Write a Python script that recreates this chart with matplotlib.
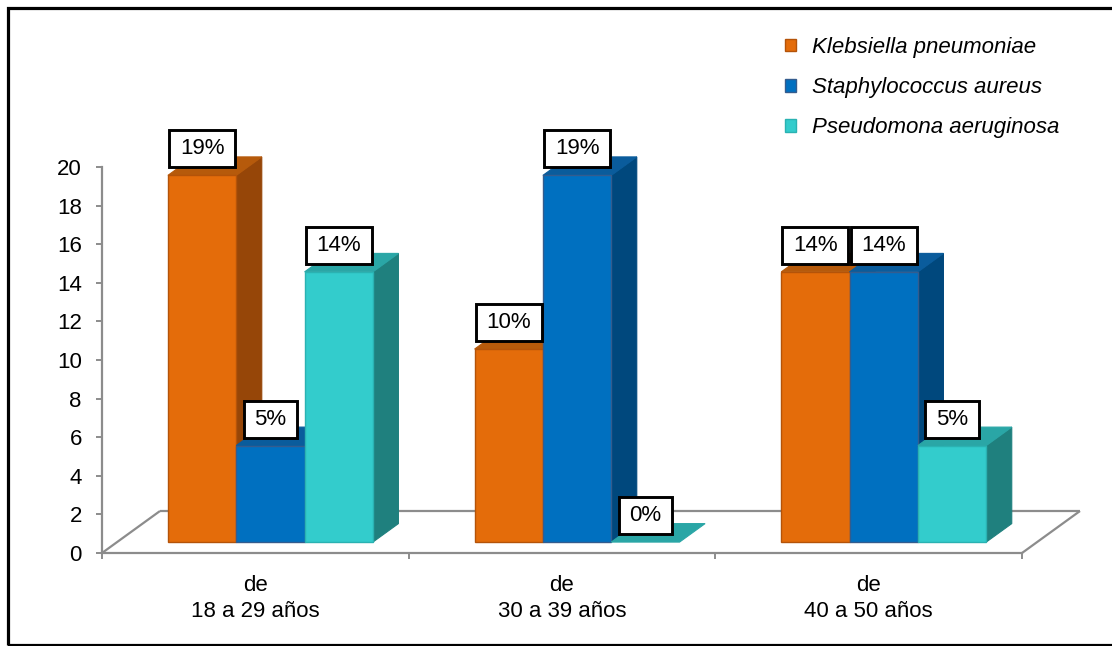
import matplotlib
matplotlib.use("Agg")
import matplotlib.pyplot as plt
from matplotlib.patches import Polygon, Rectangle, Patch
from matplotlib.path import Path

# ---- data -------------------------------------------------------------
categories = ["de\n18 a 29 años", "de\n30 a 39 años", "de\n40 a 50 años"]
series_names = ["Klebsiella pneumoniae", "Staphylococcus aureus", "Pseudomona aeruginosa"]
klebsiella = [19, 10, 14]
staphylococcus = [5, 19, 14]
pseudomona = [14, 0, 5]
y_ticks = [0, 2, 4, 6, 8, 10, 12, 14, 16, 18, 20]

# ---- styling ----------------------------------------------------------
plt.rcParams["font.family"] = ["Liberation Sans", "DejaVu Sans"]
FONT = 16
# (front, top, side, edge) shades per series
shades = [
    ("#E46C0A", "#B65A0B", "#964608", "#B45309"),
    ("#0070C0", "#0A5C9C", "#00487D", "#345C8E"),
    ("#33CCCC", "#2AA6A6", "#1F807E", "#2AB2B2"),
]
GRID_GRAY = "#8C8C8C"

W, H = 1112, 646
fig = plt.figure(figsize=(W / 100, H / 100), dpi=100)
ax_px = (102, 93, 920, 386)  # left, bottom, width, height in pixels
ax = fig.add_axes([ax_px[0] / W, ax_px[1] / H, ax_px[2] / W, ax_px[3] / H])
ax.set_xlim(0, 3)
ax.set_ylim(0, 20)

# perspective offsets of the floor (data units)
px_x = ax_px[2] / 3.0
px_y = ax_px[3] / 20.0
DX = 58 / px_x
DY = 42 / px_y
F0, F1 = 0.26, 0.70          # front / back depth of the bars
BAR_W = 0.2228

# floor outline
floor_kw = dict(color=GRID_GRAY, lw=1.6, clip_on=False, zorder=1,
                solid_capstyle="butt")
ax.plot([0, DX], [0, DY], **floor_kw)
ax.plot([DX, 3 + DX], [DY, DY], **floor_kw)
ax.plot([3, 3 + DX], [0, DY], **floor_kw)


def label_box(x0, y0, width, height, mutation_size):
    px, py = 0.48 * mutation_size, 0.36 * mutation_size
    x0, y0 = x0 - px, y0 - py
    x1, y1 = x0 + width + 2 * px, y0 + height + 2 * py
    return Path([(x0, y0), (x1, y0), (x1, y1), (x0, y1), (x0, y0)], closed=True)


series = [klebsiella, staphylococcus, pseudomona]
z = 2
for c in range(len(categories)):
    for s, values in enumerate(series):
        v = values[c]
        front, top, side, edge = shades[s]
        xc = c + 0.5 + (s - 1) * BAR_W
        x0, x1 = xc - BAR_W / 2, xc + BAR_W / 2
        fx0, fx1 = x0 + F0 * DX, x1 + F0 * DX
        bx0, bx1 = x0 + F1 * DX, x1 + F1 * DX
        fy, by = F0 * DY, F1 * DY
        side_poly = [(fx1, fy), (bx1, by), (bx1, v + by), (fx1, v + fy)]
        top_poly = [(fx0, v + fy), (fx1, v + fy), (bx1, v + by), (bx0, v + by)]
        front_poly = [(fx0, fy), (fx1, fy), (fx1, v + fy), (fx0, v + fy)]
        if v > 0:
            ax.add_patch(Polygon(side_poly, closed=True, fc=side, ec=side,
                                 lw=0.8, clip_on=False, zorder=z))
        ax.add_patch(Polygon(top_poly, closed=True, fc=top, ec=top,
                             lw=0.8, clip_on=False, zorder=z))
        if v > 0:
            ax.add_patch(Polygon(front_poly, closed=True, fc=front, ec=edge,
                                 lw=1.0, clip_on=False, zorder=z))
        z += 1
        ax.annotate(f"{v}%", xy=((fx0 + fx1) / 2, v + fy), xytext=(0, 19),
                    textcoords="offset points", ha="center", va="center",
                    fontsize=FONT, color="black", zorder=20,
                    bbox=dict(boxstyle=label_box, fc="white", ec="black", lw=2.1))

# axes, ticks and labels
for side_name in ("top", "right"):
    ax.spines[side_name].set_visible(False)
for side_name in ("left", "bottom"):
    ax.spines[side_name].set_color(GRID_GRAY)
    ax.spines[side_name].set_linewidth(1.6)
    ax.spines[side_name].set_zorder(1)
ax.set_yticks(y_ticks)
ax.set_yticklabels([str(t) for t in y_ticks])
ax.tick_params(axis="y", direction="out", length=4.5, width=1.4, color=GRID_GRAY,
               labelsize=FONT, pad=10)
ax.set_xticks([0, 1, 2, 3])
ax.set_xticklabels([])
ax.tick_params(axis="x", which="major", direction="out", length=4.5, width=1.4,
               color=GRID_GRAY)
ax.set_xticks([0.5, 1.5, 2.5], minor=True)
ax.set_xticklabels(categories, minor=True, fontsize=FONT, linespacing=1.3)
ax.tick_params(axis="x", which="minor", length=0, pad=16)
ax.set_facecolor("none")

# legend
handles = [Patch(fc=shades[i][0], ec=shades[i][3], lw=1.0) for i in range(3)]
leg = fig.legend(handles, series_names, loc="upper left",
                 bbox_to_anchor=(785 / W, 1 - 37 / H), frameon=False,
                 borderpad=0, borderaxespad=0, handlelength=0.5,
                 handleheight=0.5, handletextpad=0.72, labelspacing=0.86,
                 prop=dict(family=["Liberation Sans", "DejaVu Sans"],
                           style="italic", size=FONT))

# outer frame
fig.add_artist(Rectangle((7.5 / W, 1.5 / H), 1.2, 1 - 9 / H,
                         transform=fig.transFigure, fill=False, ec="black",
                         lw=2.3, clip_on=False))

fig.savefig("out.png", dpi=100)
